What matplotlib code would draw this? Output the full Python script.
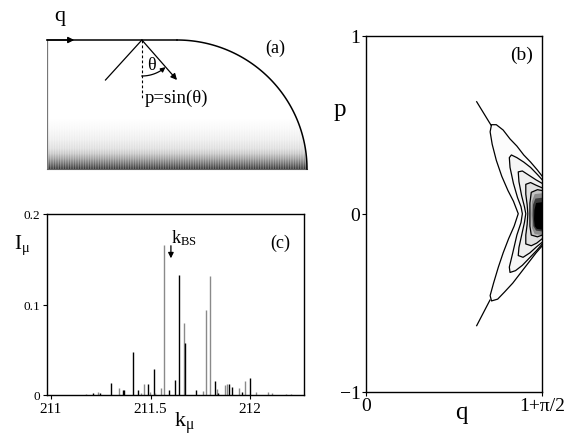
import numpy as np
import matplotlib
matplotlib.use("Agg")
import matplotlib.pyplot as plt
from matplotlib.path import Path
from matplotlib.patches import PathPatch, FancyArrowPatch

plt.rcParams.update({
    "font.family": ["Liberation Serif", "DejaVu Serif"],
    "mathtext.fontset": "custom",
    "mathtext.rm": "Liberation Serif",
    "mathtext.it": "Liberation Serif:italic",
    "axes.linewidth": 1.0,
})

W, H = 572, 439

# ---------- panel (a): billiard geometry ----------
straight_len = 1.0
radius = 1.0
bounce_q = 0.73
theta_deg = 41.0
# darkness of the wave pattern vs height above the bottom edge
wave_height = [0.0, 0.04, 0.08, 0.12, 0.16, 0.23, 0.31, 0.40, 1.0]
wave_dark = [0.80, 0.58, 0.38, 0.22, 0.13, 0.07, 0.03, 0.0, 0.0]
stripes_per_unit = 52

# ---------- panel (b): Husimi contours (q, p) ----------
q_max = 1 + np.pi / 2
traj_up_q = [1.614, 1.822]
traj_up_p = [0.629, 0.498]
traj_lo_q = [1.614, 1.808]
traj_lo_p = [-0.629, -0.485]

L1_q = [q_max, 2.50, 2.40, 2.30, 2.20, 2.10, 2.00, 1.90, 1.83, 1.81, 1.84, 1.90, 1.98,
        2.07, 2.15, 2.22, 2.16, 2.08, 2.00, 1.93, 1.86, 1.81, 1.83, 1.92, 2.02, 2.14,
        2.26, 2.38, 2.48, q_max]
L1_p = [0.21, 0.245, 0.29, 0.33, 0.38, 0.42, 0.47, 0.50, 0.50, 0.46, 0.39, 0.30, 0.21,
        0.13, 0.07, 0.00, -0.07, -0.14, -0.22, -0.30, -0.39, -0.46, -0.49, -0.48, -0.44,
        -0.39, -0.33, -0.27, -0.22, -0.18]
L2_q = [q_max, 2.50, 2.40, 2.30, 2.20, 2.12, 2.09, 2.10, 2.15, 2.21, 2.26, 2.28, 2.26,
        2.20, 2.14, 2.09, 2.10, 2.18, 2.28, 2.38, 2.48, q_max]
L2_p = [0.19, 0.22, 0.26, 0.29, 0.315, 0.33, 0.315, 0.26, 0.17, 0.09, 0.04, 0.00, -0.05,
        -0.12, -0.22, -0.30, -0.33, -0.32, -0.29, -0.25, -0.21, -0.17]
L3_q = [q_max, 2.48, 2.38, 2.28, 2.22, 2.23, 2.27, 2.31, 2.33, 2.31, 2.27, 2.23, 2.22,
        2.29, 2.39, 2.49, q_max]
L3_p = [0.17, 0.19, 0.215, 0.24, 0.235, 0.18, 0.10, 0.04, 0.00, -0.05, -0.12, -0.19,
        -0.235, -0.245, -0.22, -0.185, -0.16]
L4_q = [q_max, 2.48, 2.40, 2.33, 2.33, 2.35, 2.36, 2.35, 2.33, 2.33, 2.41, 2.49, q_max]
L4_p = [0.145, 0.16, 0.175, 0.165, 0.11, 0.05, 0.00, -0.06, -0.12, -0.17, -0.18, -0.165, -0.14]
L5_q = [q_max, 2.50, 2.41, 2.39, 2.39, 2.39, 2.41, 2.50, q_max]
L5_p = [0.13, 0.135, 0.12, 0.06, 0.0, -0.07, -0.12, -0.13, -0.12]
C1_q = [q_max, 2.46, 2.42, 2.41, 2.42, 2.46, q_max]
C1_p = [0.115, 0.11, 0.07, 0.0, -0.08, -0.115, -0.12]
C2_q = [q_max, 2.47, 2.435, 2.43, 2.44, 2.48, q_max]
C2_p = [0.09, 0.085, 0.05, -0.01, -0.07, -0.095, -0.10]
C3_q = [q_max, 2.48, 2.455, 2.45, 2.46, 2.49, q_max]
C3_p = [0.065, 0.06, 0.02, -0.03, -0.07, -0.085, -0.09]

# ---------- panel (c): spectrum ----------
k_mu = [211.174, 211.212, 211.237, 211.248, 211.303, 211.339, 211.359, 211.366,
        211.412, 211.439, 211.451, 211.469, 211.487, 211.497, 211.516, 211.524,
        211.554, 211.568, 211.593, 211.621, 211.642, 211.667, 211.672, 211.729,
        211.765, 211.779, 211.796, 211.825, 211.833, 211.840, 211.873, 211.883,
        211.893, 211.908, 211.945, 211.957, 211.976, 211.998, 212.027, 212.087,
        212.110, 212.180, 212.205]
I_mu = [0.0007, 0.002, 0.0037, 0.0026, 0.0133, 0.008, 0.005, 0.006,
        0.048, 0.0055, 0.0025, 0.012, 0.012, 0.003, 0.029, 0.0025,
        0.0077, 0.166, 0.006, 0.017, 0.133, 0.080, 0.057, 0.006,
        0.004, 0.094, 0.132, 0.015, 0.007, 0.002, 0.011, 0.012,
        0.012, 0.009, 0.008, 0.003, 0.016, 0.019, 0.003, 0.003,
        0.002, 0.001, 0.001]
bar_shade = ["g", "k", "g", "k", "k", "g", "k", "k",
             "k", "k", "g", "g", "k", "g", "k", "g",
             "g", "g", "k", "k", "k", "g", "k", "k",
             "g", "g", "g", "k", "g", "k", "g", "g",
             "k", "k", "g", "k", "g", "k", "g", "g",
             "g", "g", "g"]
k_bs = 211.602

GRAY = "#8a8a8a"


def frac(x0, y0, x1, y1):
    """pixel box (left, top, right, bottom) -> figure axes rect"""
    return [x0 / W, 1 - y1 / H, (x1 - x0) / W, (y1 - y0) / H]


fig = plt.figure(figsize=(W / 100, H / 100), dpi=100)

# ============================================================================
#  (a) billiard with wave pattern
# ============================================================================
ax_a = fig.add_axes(frac(47, 41, 307, 170))
ax_a.set_xlim(0, straight_len + radius)
ax_a.set_ylim(0, 1)
ax_a.axis("off")

ang = np.linspace(np.pi / 2, 0, 80)
arc_x = straight_len + radius * np.cos(ang)
arc_y = radius * np.sin(ang)
verts = [(0, 0), (0, 1), (straight_len, 1)] + list(zip(arc_x, arc_y)) + [(0, 0)]
clip = PathPatch(Path(verts), facecolor="none", edgecolor="none")
ax_a.add_patch(clip)

xs = (np.arange(260) + 0.5) / 130
ys = (np.arange(129) + 0.5) / 129
X, Y = np.meshgrid(xs, ys)
dark = np.interp(Y, wave_height, wave_dark) * \
    (0.72 + 0.28 * np.cos(np.pi * stripes_per_unit * X) ** 2)
img = ax_a.imshow(dark, origin="lower", extent=(0, 2, 0, 1), cmap="gray_r",
                  vmin=0, vmax=1, aspect="auto", interpolation="nearest")
img.set_clip_path(clip)

ax_a.plot([0, 0], [0, 1], color="#777777", lw=0.9)
ax_a.plot([0, 2], [0, 0], color="#666666", lw=0.8, clip_on=False)
ax_a.plot([0, straight_len], [1, 1], color="black", lw=1.1, clip_on=False)
ax_a.plot(arc_x, arc_y, color="black", lw=1.1, clip_on=False)

# q-direction arrow along the boundary
ax_a.add_patch(FancyArrowPatch((0, 1), (0.21, 1), arrowstyle="-|>", mutation_scale=9,
                               color="black", lw=1.0, shrinkA=0, shrinkB=0,
                               clip_on=False, zorder=5))
# trajectory
ax_a.plot([0.45, bounce_q], [0.69, 1], color="black", lw=0.9, clip_on=False)
ax_a.add_patch(FancyArrowPatch((bounce_q, 1), (1.0, 0.69), arrowstyle="-|>",
                               mutation_scale=9, color="black", lw=0.9,
                               shrinkA=0, shrinkB=0, clip_on=False))
ax_a.plot([bounce_q, bounce_q], [1, 0.54], color="black", lw=0.8, ls=(0, (2.5, 2)))
th = np.radians(np.linspace(0, theta_deg, 30))
r_px = 36
ax_a.plot(bounce_q + r_px / 130 * np.sin(th[:-4]), 1 - r_px / 129 * np.cos(th[:-4]),
          color="black", lw=0.9)
ax_a.add_patch(FancyArrowPatch(
    (bounce_q + r_px / 130 * np.sin(th[-5]), 1 - r_px / 129 * np.cos(th[-5])),
    (bounce_q + r_px / 130 * np.sin(th[-1]), 1 - r_px / 129 * np.cos(th[-1])),
    arrowstyle="-|>", mutation_scale=7, color="black", lw=0.9, shrinkA=0, shrinkB=0))

fig.text(60 / W, 1 - 17 / H, "q", fontsize=16, ha="center", va="center")
fig.text(275 / W, 1 - 48 / H, "(a)", fontsize=13, ha="center", va="center")
fig.text(151 / W, 1 - 65 / H, "θ", fontsize=13, ha="center", va="center")
fig.text(144.5 / W, 1 - 98 / H, "p=sin(θ)", fontsize=13.5, ha="left", va="center")

# ============================================================================
#  (b) Husimi contours
# ============================================================================
ax_b = fig.add_axes(frac(366, 36.7, 542.3, 392.7))
ax_b.set_xlim(0, q_max)
ax_b.set_ylim(-1, 1)

levels = [(L1_q, L1_p, "#fcfcfc"), (L2_q, L2_p, "#f6f6f6"), (L3_q, L3_p, "#eeeeee"),
          (L4_q, L4_p, "#e0e0e0"), (L5_q, L5_p, "#c4c4c4")]
for q, p, fc in levels:
    ax_b.fill(q, p, color=fc, lw=0, zorder=1)
    ax_b.plot(q, p, color="black", lw=0.9, zorder=3)
for q, p, fc in [(C1_q, C1_p, "#8c8c8c"), (C2_q, C2_p, "#3a3a3a"), (C3_q, C3_p, "#000000")]:
    ax_b.fill(q, p, color=fc, lw=0, zorder=2)
ax_b.plot(traj_up_q, traj_up_p, color="black", lw=0.9)
ax_b.plot(traj_lo_q, traj_lo_p, color="black", lw=0.9)

ax_b.set_xticks([0, q_max])
ax_b.set_xticklabels(["0", "1+π/2"])
ax_b.set_yticks([-1, 0, 1])
ax_b.set_yticklabels(["−1", "0", "1"])
ax_b.tick_params(direction="out", length=3, labelsize=14, pad=1)
fig.text(340 / W, 1 - 110 / H, "p", fontsize=18, ha="center", va="center")
fig.text(461 / W, 1 - 413 / H, "q", fontsize=18, ha="center", va="center")
fig.text(522 / W, 1 - 55 / H, "(b)", fontsize=14, ha="center", va="center")

# ============================================================================
#  (c) spectrum
# ============================================================================
ax_c = fig.add_axes(frac(47, 215, 304, 396))
colors = [GRAY if s == "g" else "black" for s in bar_shade]
ax_c.vlines(k_mu, 0, I_mu, colors=colors, lw=1.0)
ax_c.set_xlim(210.98, 212.27)
ax_c.set_ylim(0, 0.2)
ax_c.set_xticks([211, 211.5, 212])
ax_c.set_xticklabels(["211", "211.5", "212"])
ax_c.set_yticks([0, 0.1, 0.2])
ax_c.set_yticklabels(["0", "0.1", "0.2"])
ax_c.tick_params(axis="x", direction="out", length=3, labelsize=11, pad=2)
ax_c.tick_params(axis="y", direction="out", length=3, labelsize=9.5, pad=2)

ax_c.annotate("", xy=(k_bs, 0.148), xytext=(k_bs, 0.168),
              arrowprops=dict(arrowstyle="-|>", color="black", lw=0.9, mutation_scale=8))
fig.text(184 / W, 1 - 238 / H, r"k$_\mathrm{BS}$", fontsize=13, ha="center", va="center")
fig.text(280 / W, 1 - 243 / H, "(c)", fontsize=13, ha="center", va="center")
fig.text(22 / W, 1 - 245 / H, r"I$_\mathrm{μ}$", fontsize=15, ha="center", va="center")
fig.text(184 / W, 1 - 423 / H, r"k$_\mathrm{μ}$", fontsize=16, ha="center", va="center")

fig.savefig("out.png", dpi=100)
